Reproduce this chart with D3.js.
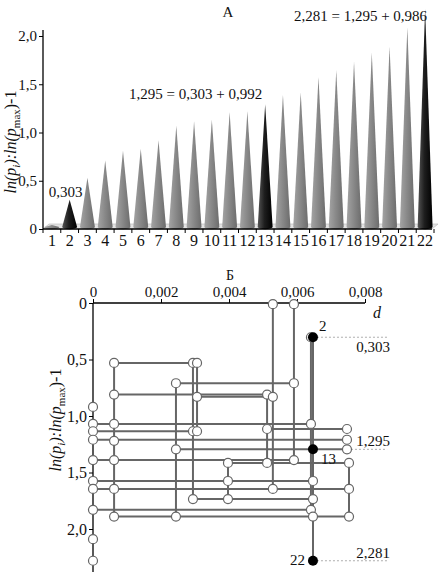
<!DOCTYPE html>
<html>
<head>
<meta charset="utf-8">
<script src="https://cdn.jsdelivr.net/npm/d3@7"></script>
<style>
body { margin: 0; background: #fff; }
svg text { font-family: "Liberation Serif", "DejaVu Serif", serif; fill: #111; }
</style>
</head>
<body>
<svg id="chart" width="443" height="572"></svg>
<script>
// ---- data: chart A (cones)
var categories = d3.range(1, 23);
var values = [0.01, 0.303, 0.53, 0.71, 0.81, 0.83, 0.92, 1.07, 1.115, 1.135, 1.21,
              1.22, 1.295, 1.39, 1.415, 1.575, 1.645, 1.735, 1.83, 1.89, 2.09, 2.281];
var darkBars = [2, 13, 22];
var yTicksA = [0, 0.5, 1, 1.5, 2];

// ---- data: chart B (graph), levels are bar numbers -> y = values[level-1]
var xTicksB = [0, 0.002, 0.004, 0.006, 0.008];
var yTicksB = [0, 0.5, 1, 1.5, 2];
// [level, d from, d to]
var hLines = [
  [3, 0.00062, 0.00306], [4, 0.00244, 0.00591], [5, 0.00062, 0.00512], [6, 0.00306, 0.00529],
  [8, 0, 0.00641], [9, 0.00512, 0.00747], [10, 0, 0.00306], [11, 0, 0.00747],
  [13, 0.00244, 0.00747], [14, 0, 0.00591], [15, 0.00397, 0.00753], [16, 0, 0.00647],
  [17, 0, 0.00753], [18, 0.00294, 0.00647], [19, 0, 0.00641], [20, 0.00062, 0.00753]
];
// [d, level from, level to]
var vLines = [
  [0.00062, 3, 20], [0.00244, 4, 20], [0.00294, 3, 18], [0.00306, 3, 10],
  [0.00397, 15, 18], [0.00512, 5, 15], [0.00529, 1, 17], [0.00591, 1, 14],
  [0.00753, 15, 20], [0.00641, 2, 19], [0.00647, 2, 22]
];
// [d, level]
var openNodes = [
  [0, 7], [0, 8], [0, 10], [0, 11], [0, 14], [0, 16], [0, 17], [0, 19], [0, 21], [0, 22],
  [0.00062, 3], [0.00062, 5], [0.00062, 8], [0.00062, 12], [0.00062, 14], [0.00062, 17], [0.00062, 20],
  [0.00244, 4], [0.00244, 13], [0.00244, 20],
  [0.00294, 3], [0.00294, 10], [0.00294, 18],
  [0.00306, 3], [0.00306, 6], [0.00306, 10],
  [0.00397, 15], [0.00397, 16], [0.00397, 18],
  [0.00512, 5], [0.00512, 9], [0.00512, 15],
  [0.00529, 1], [0.00529, 6], [0.00529, 17],
  [0.00591, 1], [0.00591, 4], [0.00591, 14],
  [0.00641, 2], [0.00641, 8], [0.00641, 19],
  [0.00647, 16], [0.00647, 18], [0.00647, 20],
  [0.00747, 9], [0.00747, 11], [0.00747, 13],
  [0.00753, 15], [0.00753, 17], [0.00753, 20]
];
var blackNodes = [[0.00647, 2], [0.00647, 13], [0.00647, 22]];
// [level, d from, d to, label]
var guides = [[2, 0.00647, 0.00865, "0,303"], [13, 0.00747, 0.00865, "1,295"], [22, 0.00647, 0.00865, "2,281"]];

var svg = d3.select("#chart");
var commaFmt = function(f) { return function(d) { return d === 0 ? "0" : d3.format(f)(d).replace(".", ","); }; };

// y-axis title with subscripts
function yTitle(g, x, y) {
  var t = g.append("text")
      .attr("transform", "translate(" + x + "," + y + ") rotate(-90)")
      .attr("text-anchor", "middle")
      .style("font-size", "16px");
  t.append("tspan").style("font-style", "italic").text("ln(p");
  t.append("tspan").style("font-style", "italic").style("font-size", "11px").attr("dy", 4).text("i");
  t.append("tspan").attr("dy", -4).style("font-style", "italic").text("):ln(p");
  t.append("tspan").style("font-size", "11px").attr("dy", 4).text("max");
  t.append("tspan").attr("dy", -4).text(")-1");
}

// ================= chart A =================
var xA = d3.scaleBand().domain(categories).range([43, 434]).paddingInner(0.16).paddingOuter(0.08);
var yA = d3.scaleLinear().domain([0, 2]).range([229, 36]);

var defs = svg.append("defs");
function grad(id, c) {
  var lg = defs.append("linearGradient").attr("id", id);
  lg.append("stop").attr("offset", "0%").attr("stop-color", c[0]);
  lg.append("stop").attr("offset", "45%").attr("stop-color", c[1]);
  lg.append("stop").attr("offset", "100%").attr("stop-color", c[2]);
}
grad("gGray", ["#a4a4a4", "#8a8a8a", "#6c6c6c"]);
grad("gDark", ["#555555", "#1e1e1e", "#000000"]);

var a = svg.append("g");

// floor
a.append("polygon")
    .attr("points", [[43, yA(0)], [432, yA(0)], [438, yA(0) - 5], [49, yA(0) - 5]].join(" "))
    .attr("fill", "#e4e4e4")
    .attr("stroke", "#b5b5b5")
    .attr("stroke-width", 0.6);

var base = yA(0) - 2;
a.selectAll("path.cone")
    .data(categories)
    .enter().append("path")
    .attr("class", "cone")
    .attr("d", function(c, i) {
      var h = xA.bandwidth() / 2, cx = xA(c) + h;
      var tip = Math.min(yA(values[i]), base - 2);
      return "M" + (cx - h) + "," + base + "L" + cx + "," + tip + "L" + (cx + h) + "," + base +
             "A" + h + ",2.2 0 0 1 " + (cx - h) + "," + base + "Z";
    })
    .attr("fill", function(c) { return darkBars.indexOf(c) >= 0 ? "url(#gDark)" : "url(#gGray)"; });

// axes
a.append("line").attr("x1", 43).attr("x2", 43).attr("y1", yA(0)).attr("y2", 30).attr("stroke", "#000").attr("stroke-width", 1.3);
a.append("line").attr("x1", 43).attr("x2", 432).attr("y1", yA(0)).attr("y2", yA(0)).attr("stroke", "#000").attr("stroke-width", 1.3);

var yAxA = a.append("g").attr("transform", "translate(43,0)")
    .call(d3.axisLeft(yA).tickValues(yTicksA).tickFormat(commaFmt(".1f")).tickSize(4).tickPadding(2));
yAxA.select(".domain").remove();
yAxA.selectAll("text").style("font-size", "15px").attr("fill", "#111");

a.selectAll("line.xt")
    .data(categories.concat([23]))
    .enter().append("line")
    .attr("class", "xt")
    .attr("x1", function(c) { return c === 23 ? xA(22) + xA.step() - xA.step() * 0.08 : xA(c) - xA.step() * 0.08; })
    .attr("x2", function(c) { return c === 23 ? xA(22) + xA.step() - xA.step() * 0.08 : xA(c) - xA.step() * 0.08; })
    .attr("y1", yA(0)).attr("y2", yA(0) + 4)
    .attr("stroke", "#000");

a.selectAll("text.xl")
    .data(categories)
    .enter().append("text")
    .attr("class", "xl")
    .attr("x", function(c) { return xA(c) + xA.bandwidth() / 2; })
    .attr("y", yA(0) + 17)
    .attr("text-anchor", "middle")
    .style("font-size", "16px")
    .text(function(c) { return c; });

a.append("text").attr("x", 228).attr("y", 17).attr("text-anchor", "middle").style("font-size", "15px").text("А");
yTitle(a, 16, 142);

var cx = function(c) { return xA(c) + xA.bandwidth() / 2; };
a.append("text").attr("x", cx(2) - 4).attr("y", yA(values[1]) - 3).attr("text-anchor", "middle")
    .style("font-size", "15px").text("0,303");
a.append("text").attr("x", cx(13) - 3).attr("y", yA(values[12]) - 5).attr("text-anchor", "end")
    .style("font-size", "15px").text("1,295 = 0,303 + 0,992");
a.append("text").attr("x", cx(22) + 2).attr("y", 21).attr("text-anchor", "end")
    .style("font-size", "15px").text("2,281 = 1,295 + 0,986");

// ================= chart B =================
var xB = d3.scaleLinear().domain([0, 0.008]).range([93, 365]);
var yB = d3.scaleLinear().domain([0, 2]).range([303, 529]);
var lv = function(l) { return yB(values[l - 1]); };

var b = svg.append("g");

// axes
b.append("line").attr("x1", xB(0)).attr("x2", xB(0.008)).attr("y1", yB(0)).attr("y2", yB(0)).attr("stroke", "#000").attr("stroke-width", 1.3);
b.append("line").attr("x1", xB(0)).attr("x2", xB(0)).attr("y1", yB(0)).attr("y2", 572).attr("stroke", "#000").attr("stroke-width", 1.3);

var xAxB = b.append("g").attr("transform", "translate(0," + yB(0) + ")")
    .call(d3.axisTop(xB).tickValues(xTicksB).tickFormat(commaFmt(".3f")).tickSize(4).tickPadding(2));
xAxB.select(".domain").remove();
xAxB.selectAll("text").style("font-size", "15px").attr("fill", "#111");

var yAxB = b.append("g").attr("transform", "translate(" + xB(0) + ",0)")
    .call(d3.axisLeft(yB).tickValues(yTicksB).tickFormat(commaFmt(".1f")).tickSize(4).tickPadding(2));
yAxB.select(".domain").remove();
yAxB.selectAll("text").style("font-size", "16px").attr("fill", "#111");

b.append("text").attr("x", 377).attr("y", 318).attr("text-anchor", "middle")
    .style("font-size", "16px").style("font-style", "italic").text("d");
b.append("text").attr("x", 230).attr("y", 280).attr("text-anchor", "middle").style("font-size", "14px").text("Б");
yTitle(b, 61, 420);

// guide lines
b.selectAll("line.guide")
    .data(guides)
    .enter().append("line")
    .attr("class", "guide")
    .attr("x1", function(d) { return xB(d[1]); })
    .attr("x2", function(d) { return xB(d[2]); })
    .attr("y1", function(d) { return lv(d[0]); })
    .attr("y2", function(d) { return lv(d[0]); })
    .attr("stroke", "#999")
    .attr("stroke-width", 0.8)
    .attr("stroke-dasharray", "2,2");

b.selectAll("text.guide")
    .data(guides)
    .enter().append("text")
    .attr("class", "guide")
    .attr("x", function(d) { return xB(d[2]) - 14; })
    .attr("y", function(d) { return d[0] === 2 ? lv(d[0]) + 15 : lv(d[0]) - 3; })
    .attr("text-anchor", "middle")
    .style("font-size", "15px")
    .text(function(d) { return d[3]; });

// graph edges
b.selectAll("line.h")
    .data(hLines)
    .enter().append("line")
    .attr("class", "h")
    .attr("x1", function(d) { return xB(d[1]); })
    .attr("x2", function(d) { return xB(d[2]); })
    .attr("y1", function(d) { return lv(d[0]); })
    .attr("y2", function(d) { return lv(d[0]); })
    .attr("stroke", "#666")
    .attr("stroke-width", 2);

b.selectAll("line.v")
    .data(vLines)
    .enter().append("line")
    .attr("class", "v")
    .attr("x1", function(d) { return xB(d[0]); })
    .attr("x2", function(d) { return xB(d[0]); })
    .attr("y1", function(d) { return lv(d[1]); })
    .attr("y2", function(d) { return lv(d[2]); })
    .attr("stroke", "#666")
    .attr("stroke-width", 2);

b.selectAll("circle.open")
    .data(openNodes)
    .enter().append("circle")
    .attr("class", "open")
    .attr("cx", function(d) { return xB(d[0]); })
    .attr("cy", function(d) { return lv(d[1]); })
    .attr("r", 4.5)
    .attr("fill", "#fff")
    .attr("stroke", "#666")
    .attr("stroke-width", 1.2);

b.selectAll("circle.black")
    .data(blackNodes)
    .enter().append("circle")
    .attr("class", "black")
    .attr("cx", function(d) { return xB(d[0]); })
    .attr("cy", function(d) { return lv(d[1]); })
    .attr("r", 5)
    .attr("fill", "#000");

b.append("text").attr("x", xB(0.00647) + 6).attr("y", lv(2) - 6).style("font-size", "15px").text("2");
b.append("text").attr("x", xB(0.00647) + 8).attr("y", lv(13) + 15).style("font-size", "15px").text("13");
b.append("text").attr("x", xB(0.00647) - 8).attr("y", lv(22) + 4).attr("text-anchor", "end").style("font-size", "15px").text("22");
</script>
</body>
</html>
